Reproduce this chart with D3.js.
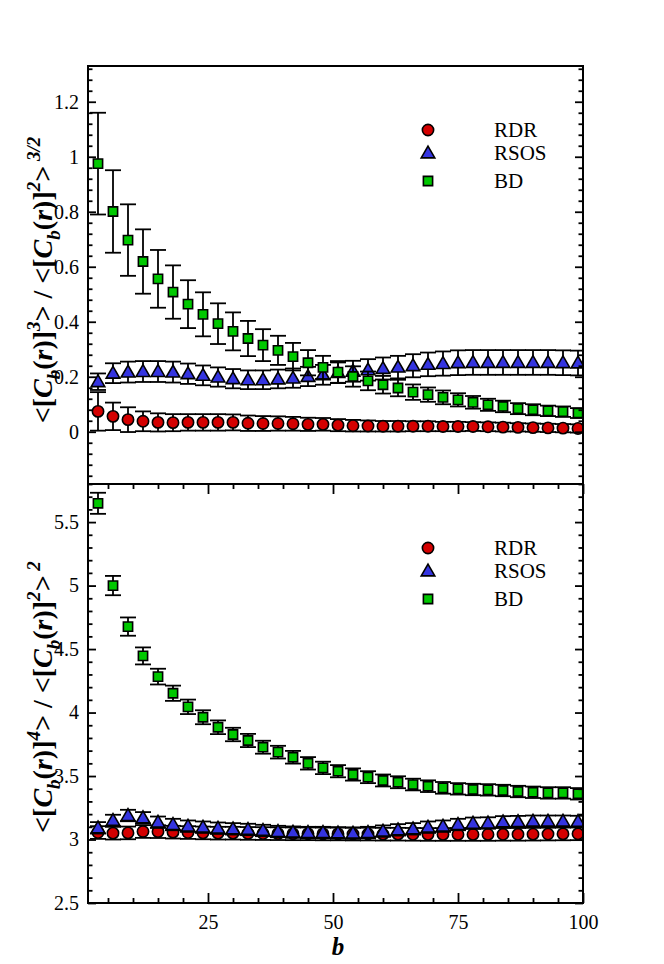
<!DOCTYPE html>
<html>
<head>
<meta charset="utf-8">
<script src="https://cdn.jsdelivr.net/npm/d3@7"></script>
<style>
  html, body { margin: 0; padding: 0; background: #fff; }
  svg { display: block; }
</style>
</head>
<body>
<svg id="chart" width="664" height="964"></svg>
<script>
// ---------------- data ----------------
const bValues = [3, 6, 9, 12, 15, 18, 21, 24, 27, 30, 33, 36, 39, 42, 45, 48, 51, 54, 57, 60, 63, 66, 69, 72, 75, 78, 81, 84, 87, 90, 93, 96, 99];

const seriesNames = ["RDR", "RSOS", "BD"];

// top panel: <[C_b(r)]^3> / <[C_b(r)]^2>^{3/2}
const skewRDR = [0.074, 0.056, 0.044, 0.038, 0.034, 0.033, 0.034, 0.034, 0.034, 0.034, 0.031, 0.030, 0.030, 0.029, 0.027, 0.027, 0.024, 0.022, 0.021, 0.020, 0.020, 0.020, 0.020, 0.019, 0.019, 0.019, 0.018, 0.017, 0.016, 0.015, 0.014, 0.013, 0.012];
const skewRDRerr = [0.070, 0.050, 0.045, 0.036, 0.033, 0.031, 0.030, 0.030, 0.030, 0.029, 0.028, 0.027, 0.026, 0.025, 0.024, 0.023, 0.022, 0.021, 0.020, 0.019, 0.019, 0.018, 0.018, 0.017, 0.017, 0.016, 0.016, 0.016, 0.015, 0.015, 0.015, 0.015, 0.015];
const skewRSOS = [0.182, 0.213, 0.217, 0.219, 0.219, 0.217, 0.211, 0.205, 0.199, 0.193, 0.189, 0.189, 0.192, 0.195, 0.201, 0.207, 0.215, 0.220, 0.225, 0.230, 0.235, 0.240, 0.245, 0.248, 0.251, 0.252, 0.252, 0.252, 0.252, 0.252, 0.252, 0.251, 0.250];
const skewRSOSerr = [0.030, 0.036, 0.038, 0.038, 0.038, 0.038, 0.037, 0.036, 0.035, 0.035, 0.034, 0.034, 0.034, 0.035, 0.035, 0.036, 0.037, 0.038, 0.039, 0.040, 0.041, 0.042, 0.043, 0.044, 0.045, 0.045, 0.045, 0.045, 0.045, 0.045, 0.045, 0.045, 0.045];
const skewBD = [0.975, 0.801, 0.697, 0.619, 0.556, 0.508, 0.464, 0.427, 0.393, 0.365, 0.339, 0.315, 0.296, 0.273, 0.251, 0.234, 0.217, 0.201, 0.185, 0.171, 0.159, 0.144, 0.135, 0.125, 0.116, 0.107, 0.098, 0.092, 0.084, 0.080, 0.076, 0.073, 0.068];
const skewBDerr = [0.185, 0.150, 0.130, 0.117, 0.105, 0.097, 0.087, 0.080, 0.074, 0.069, 0.064, 0.058, 0.053, 0.050, 0.046, 0.042, 0.040, 0.037, 0.034, 0.032, 0.030, 0.028, 0.026, 0.025, 0.024, 0.023, 0.022, 0.021, 0.020, 0.020, 0.019, 0.019, 0.018];

// bottom panel: <[C_b(r)]^4> / <[C_b(r)]^2>^2
const kurtRDR = [3.055, 3.050, 3.052, 3.063, 3.062, 3.058, 3.055, 3.052, 3.050, 3.050, 3.048, 3.047, 3.046, 3.045, 3.045, 3.044, 3.044, 3.043, 3.043, 3.042, 3.042, 3.041, 3.040, 3.040, 3.040, 3.040, 3.040, 3.041, 3.041, 3.042, 3.043, 3.044, 3.045];
const kurtRDRerr = [0.050, 0.050, 0.050, 0.050, 0.050, 0.050, 0.050, 0.050, 0.050, 0.050, 0.050, 0.050, 0.050, 0.050, 0.050, 0.050, 0.050, 0.050, 0.050, 0.050, 0.050, 0.050, 0.050, 0.050, 0.050, 0.050, 0.050, 0.050, 0.050, 0.050, 0.050, 0.050, 0.050];
const kurtRSOS = [3.092, 3.150, 3.189, 3.171, 3.136, 3.118, 3.105, 3.097, 3.089, 3.084, 3.079, 3.071, 3.063, 3.058, 3.055, 3.055, 3.052, 3.050, 3.055, 3.066, 3.076, 3.084, 3.097, 3.105, 3.118, 3.128, 3.130, 3.139, 3.141, 3.144, 3.144, 3.144, 3.142];
const kurtRSOSerr = [0.045, 0.045, 0.045, 0.045, 0.045, 0.045, 0.045, 0.045, 0.045, 0.045, 0.045, 0.045, 0.045, 0.045, 0.045, 0.045, 0.045, 0.045, 0.045, 0.045, 0.045, 0.045, 0.045, 0.045, 0.045, 0.045, 0.045, 0.045, 0.045, 0.045, 0.045, 0.045, 0.045];
const kurtBD = [5.648, 5.000, 4.677, 4.446, 4.283, 4.152, 4.045, 3.963, 3.884, 3.827, 3.780, 3.727, 3.688, 3.648, 3.600, 3.564, 3.538, 3.512, 3.491, 3.465, 3.451, 3.433, 3.420, 3.407, 3.399, 3.394, 3.391, 3.386, 3.378, 3.372, 3.367, 3.367, 3.360];
const kurtBDerr = [0.083, 0.076, 0.072, 0.067, 0.062, 0.060, 0.057, 0.055, 0.054, 0.053, 0.052, 0.051, 0.050, 0.050, 0.049, 0.049, 0.048, 0.048, 0.047, 0.047, 0.047, 0.046, 0.046, 0.046, 0.045, 0.045, 0.045, 0.045, 0.045, 0.045, 0.045, 0.045, 0.045];

const xTickLabels = [25, 50, 75, 100];
const topYTicks = [0, 0.2, 0.4, 0.6, 0.8, 1, 1.2];
const bottomYTicks = [2.5, 3, 3.5, 4, 4.5, 5, 5.5];

// ---------------- layout ----------------
const svg = d3.select("#chart");
const left = 88, right = 583;
const topPanel = { top: 66, bottom: 484 };
const botPanel = { top: 484, bottom: 903 };
const FONT = "'Liberation Serif', 'Times New Roman', Times, serif";
const colors = { RDR: "#d40000", RSOS: "#3434e0", BD: "#00c800" };
const symbols = { RDR: d3.symbolCircle, RSOS: d3.symbolTriangle, BD: d3.symbolSquare };
const symSize = { RDR: 100, RSOS: 80, BD: 85 };

const x = d3.scaleLinear().domain([1, 100]).range([left, right]);
const yTop = d3.scaleLinear().domain([-0.19, 1.33]).range([topPanel.bottom, topPanel.top]);
const yBot = d3.scaleLinear().domain([2.5, 5.8]).range([botPanel.bottom, botPanel.top]);

const fmt = v => String(+v.toFixed(2));

function styleAxis(a) {
  a.select(".domain").remove();
  a.selectAll("line").attr("stroke", "#000").attr("stroke-width", 1.8);
  a.selectAll("text").style("font-family", FONT).style("font-size", "20px").attr("fill", "#000");
}

function drawPanel(id, y, panel, data, majors, minorStep, showXLabels, showXTicks) {
  const g = svg.append("g").attr("class", "panel-" + id);
  g.append("clipPath").attr("id", "clip-" + id)
    .append("rect").attr("x", left).attr("y", panel.top)
    .attr("width", right - left).attr("height", panel.bottom - panel.top);

  const plot = g.append("g").attr("clip-path", `url(#clip-${id})`);
  seriesNames.forEach(name => {
    const vals = data[name].v, errs = data[name].e;
    const pts = bValues.map((b, i) => ({ b, v: vals[i], e: errs[i] }));
    const sg = plot.append("g");
    const eb = sg.append("g").attr("stroke", "#000").attr("stroke-width", 1.8).attr("fill", "none");
    pts.forEach(p => {
      const cx = x(p.b), y0 = y(p.v - p.e), y1 = y(p.v + p.e);
      eb.append("line").attr("x1", cx).attr("x2", cx).attr("y1", y0).attr("y2", y1);
      eb.append("line").attr("x1", cx - 8).attr("x2", cx + 8).attr("y1", y0).attr("y2", y0);
      eb.append("line").attr("x1", cx - 8).attr("x2", cx + 8).attr("y1", y1).attr("y2", y1);
    });
    const sym = d3.symbol().type(symbols[name]).size(symSize[name]);
    sg.append("g").selectAll("path").data(pts).join("path")
      .attr("d", sym)
      .attr("transform", d => `translate(${x(d.b)},${y(d.v) + (name === "RSOS" ? 1 : 0)})`)
      .attr("fill", colors[name]).attr("stroke", "#000").attr("stroke-width", 1.6);
  });

  // y axes (ticks inward)
  const [d0, d1] = y.domain();
  const minors = d3.range(Math.ceil(d0 / minorStep) * minorStep, d1 + 1e-9, minorStep)
    .filter(v => !majors.some(m => Math.abs(m - v) < 1e-6));
  styleAxis(g.append("g").attr("transform", `translate(${left},0)`)
    .call(d3.axisLeft(y).tickValues(majors).tickSize(-8).tickPadding(9).tickFormat(fmt)));
  styleAxis(g.append("g").attr("transform", `translate(${left},0)`)
    .call(d3.axisLeft(y).tickValues(minors).tickSize(-4.5).tickFormat("")));
  styleAxis(g.append("g").attr("transform", `translate(${right},0)`)
    .call(d3.axisRight(y).tickValues(majors).tickSize(-8).tickFormat("")));
  styleAxis(g.append("g").attr("transform", `translate(${right},0)`)
    .call(d3.axisRight(y).tickValues(minors).tickSize(-4.5).tickFormat("")));

  if (showXTicks) {
    const xMinors = d3.range(5, 100, 5).filter(v => v % 25 !== 0);
    styleAxis(g.append("g").attr("transform", `translate(0,${panel.bottom})`)
      .call(d3.axisBottom(x).tickValues(xTickLabels).tickSize(-10).tickPadding(12).tickFormat(showXLabels ? d3.format("d") : "")));
    styleAxis(g.append("g").attr("transform", `translate(0,${panel.bottom})`)
      .call(d3.axisBottom(x).tickValues(xMinors).tickSize(-5).tickFormat("")));
    styleAxis(g.append("g").attr("transform", `translate(0,${panel.top})`)
      .call(d3.axisTop(x).tickValues(xTickLabels).tickSize(-10).tickFormat("")));
    styleAxis(g.append("g").attr("transform", `translate(0,${panel.top})`)
      .call(d3.axisTop(x).tickValues(xMinors).tickSize(-5).tickFormat("")));
  }

  // frame
  g.append("rect").attr("x", left).attr("y", panel.top)
    .attr("width", right - left).attr("height", panel.bottom - panel.top)
    .attr("fill", "none").attr("stroke", "#000").attr("stroke-width", 2);

  // legend
  const lg = g.append("g");
  const legY = [64, 87, 115];
  seriesNames.forEach((name, i) => {
    const ly = panel.top + legY[i];
    lg.append("path").attr("d", d3.symbol().type(symbols[name]).size(symSize[name])())
      .attr("transform", `translate(428,${ly + (name === "RSOS" ? 1 : 0)})`)
      .attr("fill", colors[name]).attr("stroke", "#000").attr("stroke-width", 1.6);
    lg.append("text").attr("x", 494).attr("y", ly + 7)
      .style("font-family", FONT).style("font-size", "21px").attr("fill", "#000").text(name);
  });
}

drawPanel("top", yTop, topPanel,
  { RDR: { v: skewRDR, e: skewRDRerr }, RSOS: { v: skewRSOS, e: skewRSOSerr }, BD: { v: skewBD, e: skewBDerr } },
  topYTicks, 0.04, false, false);
drawPanel("bot", yBot, botPanel,
  { RDR: { v: kurtRDR, e: kurtRDRerr }, RSOS: { v: kurtRSOS, e: kurtRSOSerr }, BD: { v: kurtBD, e: kurtBDerr } },
  bottomYTicks, 0.1, true, true);

// y axis titles
function yTitle(cx, cy, parts, size) {
  const t = svg.append("text")
    .attr("transform", `translate(${cx},${cy}) rotate(-90)`)
    .attr("text-anchor", "middle")
    .style("font-family", FONT).style("font-weight", "bold")
    .style("font-size", size + "px").attr("fill", "#000");
  let shift = 0;
  parts.forEach(([s, kind]) => {
    const sp = t.append("tspan").text(s);
    let target = 0;
    if (kind === "sub") target = 0.28 * size;
    if (kind === "sup") target = -0.42 * size;
    sp.attr("dy", target - shift);
    shift = target;
    if (kind === "sub" || kind === "sup") sp.style("font-size", (size * 0.68) + "px");
    if (kind === "i" || kind === "sub" || kind === "sup") sp.style("font-style", "italic");
  });
}
const num3 = [["<[", "n"], ["C", "i"], ["b", "sub"], ["(", "n"], ["r", "i"], [")]", "n"], ["3", "sup"], [">", "n"],
  [" / ", "n"], ["<[", "n"], ["C", "i"], ["b", "sub"], ["(", "n"], ["r", "i"], [")]", "n"], ["2", "sup"], [">", "n"], [" 3/2", "sup"]];
const num4 = [["<[", "n"], ["C", "i"], ["b", "sub"], ["(", "n"], ["r", "i"], [")]", "n"], ["4", "sup"], [">", "n"],
  [" / ", "n"], ["<[", "n"], ["C", "i"], ["b", "sub"], ["(", "n"], ["r", "i"], [")]", "n"], ["2", "sup"], [">", "n"], [" 2", "sup"]];
yTitle(52, 280, num3, 28);
yTitle(52, 697, num4, 28);

// x axis title
svg.append("text").attr("x", x(51)).attr("y", 955).attr("text-anchor", "middle")
  .style("font-family", FONT).style("font-weight", "bold").style("font-style", "italic")
  .style("font-size", "25px").attr("fill", "#000").text("b");
</script>
</body>
</html>
